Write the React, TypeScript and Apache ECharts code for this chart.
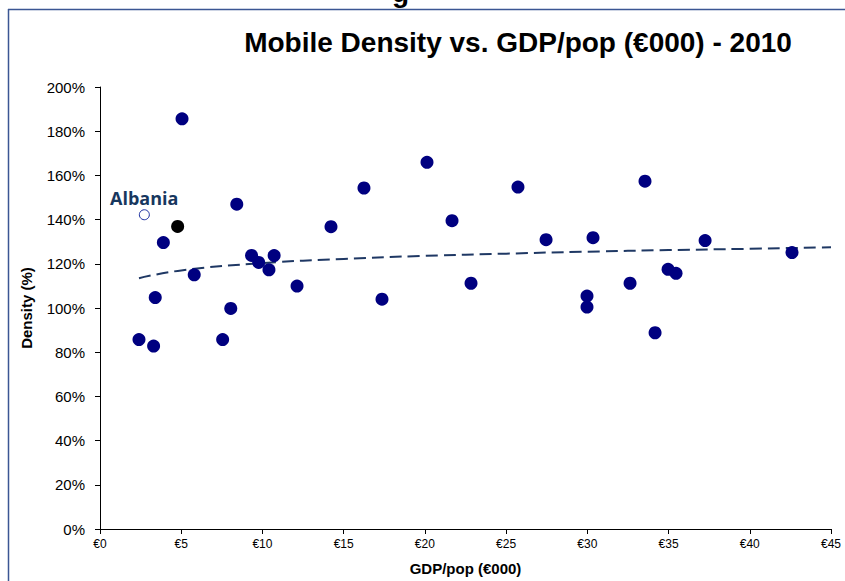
import React, { useEffect, useRef } from "react";
import * as echarts from "echarts";

const gdp = [2.4, 3.3, 3.4, 3.9, 5.05, 5.8, 7.55, 8.05, 8.42, 9.33, 9.77, 10.4, 10.72, 12.13, 14.22, 16.25, 17.36, 20.13, 21.67, 22.84, 25.73, 27.46, 30.35, 33.55, 37.25, 29.98, 29.98, 32.63, 34.97, 35.46, 34.17, 42.6];
const density = [85.7, 82.8, 104.7, 129.6, 185.6, 115.0, 85.7, 99.8, 147.0, 123.8, 120.6, 117.3, 123.7, 109.9, 136.8, 154.3, 104.0, 165.9, 139.5, 111.2, 154.7, 130.9, 131.8, 157.4, 130.5, 105.4, 100.4, 111.2, 117.5, 115.7, 88.8, 125.1];
const highlightPoint = [4.78, 136.9];
const albaniaPoint = [2.73, 142.2];
const trendX = [2.4, 5, 10, 15, 20, 25, 30, 35, 40, 45];
const trendY = [113.5, 117.0, 120.3, 122.2, 123.6, 124.6, 125.5, 126.2, 126.8, 127.5];
const xTicks = [0, 5, 10, 15, 20, 25, 30, 35, 40, 45];
const yTicks = [0, 20, 40, 60, 80, 100, 120, 140, 160, 180, 200];

export default function App() {
  const ref = useRef<HTMLDivElement>(null);
  useEffect(() => {
    if (!ref.current) return;
    const chart = echarts.init(ref.current, undefined, { renderer: "svg" });
    const font = "'Liberation Sans', Arial, sans-serif";
    chart.setOption({
      animation: false,
      backgroundColor: "#ffffff",
      textStyle: { fontFamily: font },
      title: {
        text: "Mobile Density vs. GDP/pop (€000) - 2010",
        left: 513,
        top: 23,
        textAlign: "center",
        textStyle: { fontSize: 28, fontWeight: "bold", color: "#000", fontFamily: font },
      },
      graphic: [
        { type: "line", shape: { x1: 8.5, y1: 9, x2: 8.5, y2: 581 }, style: { stroke: "#3b5693", lineWidth: 1.5 } },
        { type: "line", shape: { x1: 8, y1: 9.5, x2: 845, y2: 9.5 }, style: { stroke: "#3b5693", lineWidth: 1.5 } },
        { type: "text", left: 392, top: -22, style: { text: "g", font: "bold 28px 'Liberation Sans', Arial, sans-serif", fill: "#000" } },
        { type: "text", x: 110, y: 198, style: { text: "Albania", font: "bold 18px 'Open Sans', sans-serif", fill: "#17375e", textVerticalAlign: "middle", verticalAlign: "middle" } },
      ],
      grid: { left: 100, right: 14, top: 87, bottom: 48 },
      xAxis: {
        type: "value",
        min: xTicks[0],
        max: xTicks[xTicks.length - 1],
        interval: 5,
        name: "GDP/pop (€000)",
        nameLocation: "middle",
        nameGap: 32,
        nameTextStyle: { fontSize: 15, fontWeight: "bold", color: "#000", fontFamily: font },
        axisLine: { show: true, lineStyle: { color: "#000", width: 1 } },
        axisTick: { show: true, length: 5, lineStyle: { color: "#000" } },
        axisLabel: { formatter: (v: number) => `€${v}`, fontSize: 12, color: "#000", margin: 9, letterSpacing: -1.5, fontFamily: font },
        splitLine: { show: false },
      },
      yAxis: {
        type: "value",
        min: yTicks[0],
        max: yTicks[yTicks.length - 1],
        interval: 20,
        name: "Density (%)",
        nameLocation: "middle",
        nameGap: 66,
        nameRotate: 90,
        nameTextStyle: { fontSize: 15, fontWeight: "bold", color: "#000", fontFamily: font },
        axisLine: { show: true, lineStyle: { color: "#000", width: 1 } },
        axisTick: { show: true, length: 5, lineStyle: { color: "#000" } },
        axisLabel: { formatter: (v: number) => `${v}%`, fontSize: 15, color: "#000", margin: 15, fontFamily: font },
        splitLine: { show: false },
      },
      series: [
        {
          type: "line",
          data: trendX.map((x, i) => [x, trendY[i]]),
          smooth: true,
          showSymbol: false,
          symbol: "none",
          lineStyle: { color: "#1f3864", width: 2, type: [12, 6] },
          z: 1,
        },
        {
          type: "scatter",
          data: gdp.map((x, i) => [x, density[i]]),
          symbolSize: 13,
          itemStyle: { color: "#000080", opacity: 1 },
          z: 3,
        },
        {
          type: "scatter",
          data: [highlightPoint],
          symbolSize: 13,
          itemStyle: { color: "#000000", opacity: 1 },
          z: 3,
        },
        {
          type: "scatter",
          data: [albaniaPoint],
          symbolSize: 10,
          itemStyle: { color: "#ffffff", borderColor: "#1c2fa0", borderWidth: 1, opacity: 1 },
          z: 3,
        },
      ],
    });
    return () => chart.dispose();
  }, []);
  return <div ref={ref} style={{ width: 845, height: 581, position: "absolute", left: 0, top: 0 }} />;
}
